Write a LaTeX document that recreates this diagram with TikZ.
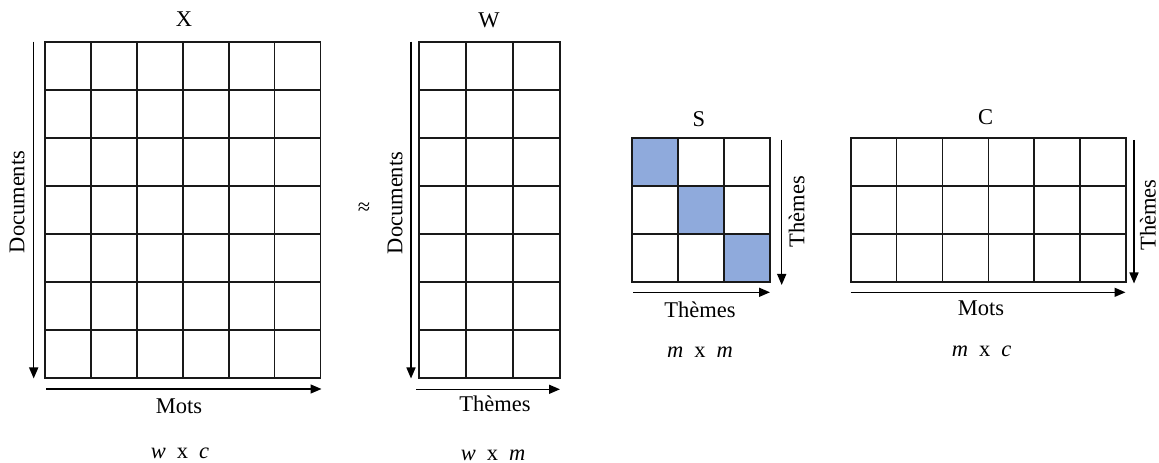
\documentclass[tikz,border=0pt]{standalone}
\usepackage{fontspec}
\setmainfont{Liberation Serif}
\usetikzlibrary{arrows.meta,calc}
\definecolor{cellblue}{HTML}{8FAADC}
\tikzset{
  gridline/.style={line width=1.7bp, draw=black!90},
  matbox/.style={gridline, draw, inner sep=0pt, outer sep=0pt, anchor=north west},
  axisarrow/.style={line width=1.5bp, draw=black, -{Triangle[length=11bp,width=9bp]}},
  lbl/.style={font=\fontsize{22.5bp}{27bp}\selectfont, inner sep=0pt},
}
\newcommand\dimtxt[2]{\textit{#1}\hspace{11bp}x\hspace{11bp}\textit{#2}}
\begin{document}
\begin{tikzpicture}[x=1bp,y=-1bp]
\useasboundingbox (0,0) rectangle (1159,463);

% ---- matrices ----
\node[matbox, minimum width=275.5bp, minimum height=336.6bp] (X) at (45,41.7) {};
\node[matbox, minimum width=141bp,   minimum height=336.6bp] (W) at (418.7,41.7) {};
\node[matbox, minimum width=137.7bp, minimum height=144bp]   (S) at (632.3,138.3) {};
\node[matbox, minimum width=275.3bp, minimum height=144bp]   (C) at (850.7,138.3) {};

% diagonal cells of S
\foreach \k in {0,1,2}
  \fill[cellblue] ($(S.north west)+(\k*45.9,\k*48)$) rectangle ++(45.9,48);
\draw[gridline] (S.north west) rectangle (S.south east);

% inner grid lines
\foreach \i in {1,...,5}
  \draw[gridline] ($(X.north west)!\i/6!(X.north east)$) -- ($(X.south west)!\i/6!(X.south east)$);
\foreach \j in {1,...,6}
  \draw[gridline] ($(X.north west)!\j/7!(X.south west)$) -- ($(X.north east)!\j/7!(X.south east)$);

\foreach \i in {1,2}
  \draw[gridline] ($(W.north west)!\i/3!(W.north east)$) -- ($(W.south west)!\i/3!(W.south east)$);
\foreach \j in {1,...,6}
  \draw[gridline] ($(W.north west)!\j/7!(W.south west)$) -- ($(W.north east)!\j/7!(W.south east)$);

\foreach \i in {1,2}
  \draw[gridline] ($(S.north west)!\i/3!(S.north east)$) -- ($(S.south west)!\i/3!(S.south east)$);
\foreach \j in {1,2}
  \draw[gridline] ($(S.north west)!\j/3!(S.south west)$) -- ($(S.north east)!\j/3!(S.south east)$);

\foreach \i in {1,...,5}
  \draw[gridline] ($(C.north west)!\i/6!(C.north east)$) -- ($(C.south west)!\i/6!(C.south east)$);
\foreach \j in {1,2}
  \draw[gridline] ($(C.north west)!\j/3!(C.south west)$) -- ($(C.north east)!\j/3!(C.south east)$);

% ---- axis arrows ----
\coordinate (Xv1) at (33.7,41.7);  \coordinate (Xv2) at (33.7,378.5);
\coordinate (Xh1) at (46,389);     \coordinate (Xh2) at (321.5,389);
\coordinate (Wv1) at (411,41.7);   \coordinate (Wv2) at (411,378.5);
\coordinate (Wh1) at (416,389.3);  \coordinate (Wh2) at (560,389.3);
\coordinate (Sv1) at (781.7,140);  \coordinate (Sv2) at (781.7,285);
\coordinate (Sh1) at (633,292.3);  \coordinate (Sh2) at (770,292.3);
\coordinate (Cv1) at (1134,140);   \coordinate (Cv2) at (1134,283.5);
\coordinate (Ch1) at (850.7,292.3);\coordinate (Ch2) at (1125.5,292.3);
\draw[axisarrow] (Xv1) -- (Xv2);
\draw[axisarrow] (Xh1) -- (Xh2);
\draw[axisarrow] (Wv1) -- (Wv2);
\draw[axisarrow] (Wh1) -- (Wh2);
\draw[axisarrow] (Sv1) -- (Sv2);
\draw[axisarrow] (Sh1) -- (Sh2);
\draw[axisarrow] (Cv1) -- (Cv2);
\draw[axisarrow] (Ch1) -- (Ch2);

% ---- titles ----
\node[lbl] (tX) at (184,19)    {X};
\node[lbl] (tW) at (489,20)    {W};
\node[lbl] (tS) at (699,119)   {S};
\node[lbl] (tC) at (985.7,117) {C};

% ---- axis labels ----
\node[lbl] (mX) at (179,406)   {Mots};
\node[lbl] (mW) at (495,404)   {Thèmes};
\node[lbl] (mS) at (700,310)   {Thèmes};
\node[lbl] (mC) at (981,308)   {Mots};
\node[lbl, rotate=90] (dX) at (17,202)     {Documents};
\node[lbl, rotate=90] (dW) at (395,203)    {Documents};
\node[lbl, rotate=90] (rS) at (796.7,211.5) {Thèmes};
\node[lbl, rotate=90] (rC) at (1148,215)   {Thèmes};

% ---- approximation sign ----
\node[lbl] (approx) at (364,209) {≈};

% ---- dimensions ----
\node[lbl] (sX) at (180,453)   {\dimtxt{w}{c}};
\node[lbl] (sW) at (493,455)   {\dimtxt{w}{m}};
\node[lbl] (sS) at (700,352.7) {\dimtxt{m}{m}};
\node[lbl] (sC) at (981.7,351.7) {\dimtxt{m}{c}};
\end{tikzpicture}
\end{document}
